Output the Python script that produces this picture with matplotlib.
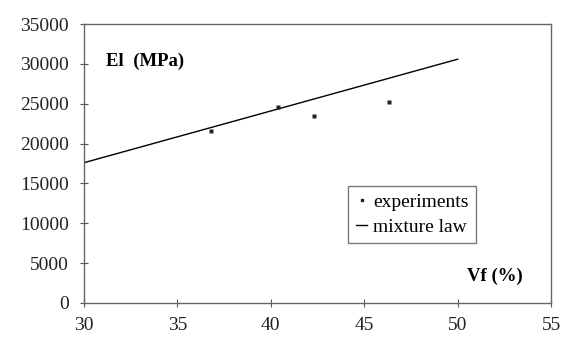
import matplotlib
matplotlib.use("Agg")
import matplotlib.pyplot as plt
from matplotlib.lines import Line2D

# experimental points (Vf %, El MPa)
vf_exp = [36.8, 40.4, 42.3, 46.3]
el_exp = [21600, 24600, 23500, 25200]

# mixture law line
vf_law = [30, 50]
el_law = [17600, 30600]

xticks = [30, 35, 40, 45, 50, 55]
yticks = [0, 5000, 10000, 15000, 20000, 25000, 30000, 35000]

plt.rcParams['font.family'] = ['Liberation Serif', 'DejaVu Serif']

fig = plt.figure(figsize=(5.63, 3.45), dpi=100)
ax = fig.add_axes([0.149, 0.122, 0.830, 0.808])

ax.plot(vf_law, el_law, color='black', lw=1.0)
ax.plot(vf_exp, el_exp, 's', color='#222222', ms=3, mec='none')

ax.set_xlim(30, 55)
ax.set_ylim(0, 35000)
ax.set_xticks(xticks)
ax.set_yticks(yticks)
ax.tick_params(direction='inout', length=6, width=0.8, colors='#555555',
               labelcolor='#222222', labelsize=14)
ax.tick_params(axis='x', pad=7)
ax.tick_params(axis='y', pad=8)
for s in ax.spines.values():
    s.set_color('#666666')
    s.set_linewidth(1.0)

ax.text(0.048, 0.865, 'El  (MPa)', transform=ax.transAxes, fontsize=13.5,
        fontweight='bold', va='center', ha='left')
ax.text(0.82, 0.095, 'Vf (%)', transform=ax.transAxes, fontsize=13.5,
        fontweight='bold', va='center', ha='left')

handles = [Line2D([], [], marker='s', ls='none', color='#222222', ms=2),
           Line2D([], [], color='black', lw=1.0)]
leg = ax.legend(handles, ['experiments', 'mixture law'], loc='upper left',
                bbox_to_anchor=(0.565, 0.42), fontsize=14, frameon=True,
                fancybox=False, edgecolor='#555555', handlelength=0.6,
                handletextpad=0.3, borderpad=0.4, labelspacing=0.35,
                borderaxespad=0)
leg.get_frame().set_linewidth(1.0)

fig.savefig('out.png', dpi=100)
